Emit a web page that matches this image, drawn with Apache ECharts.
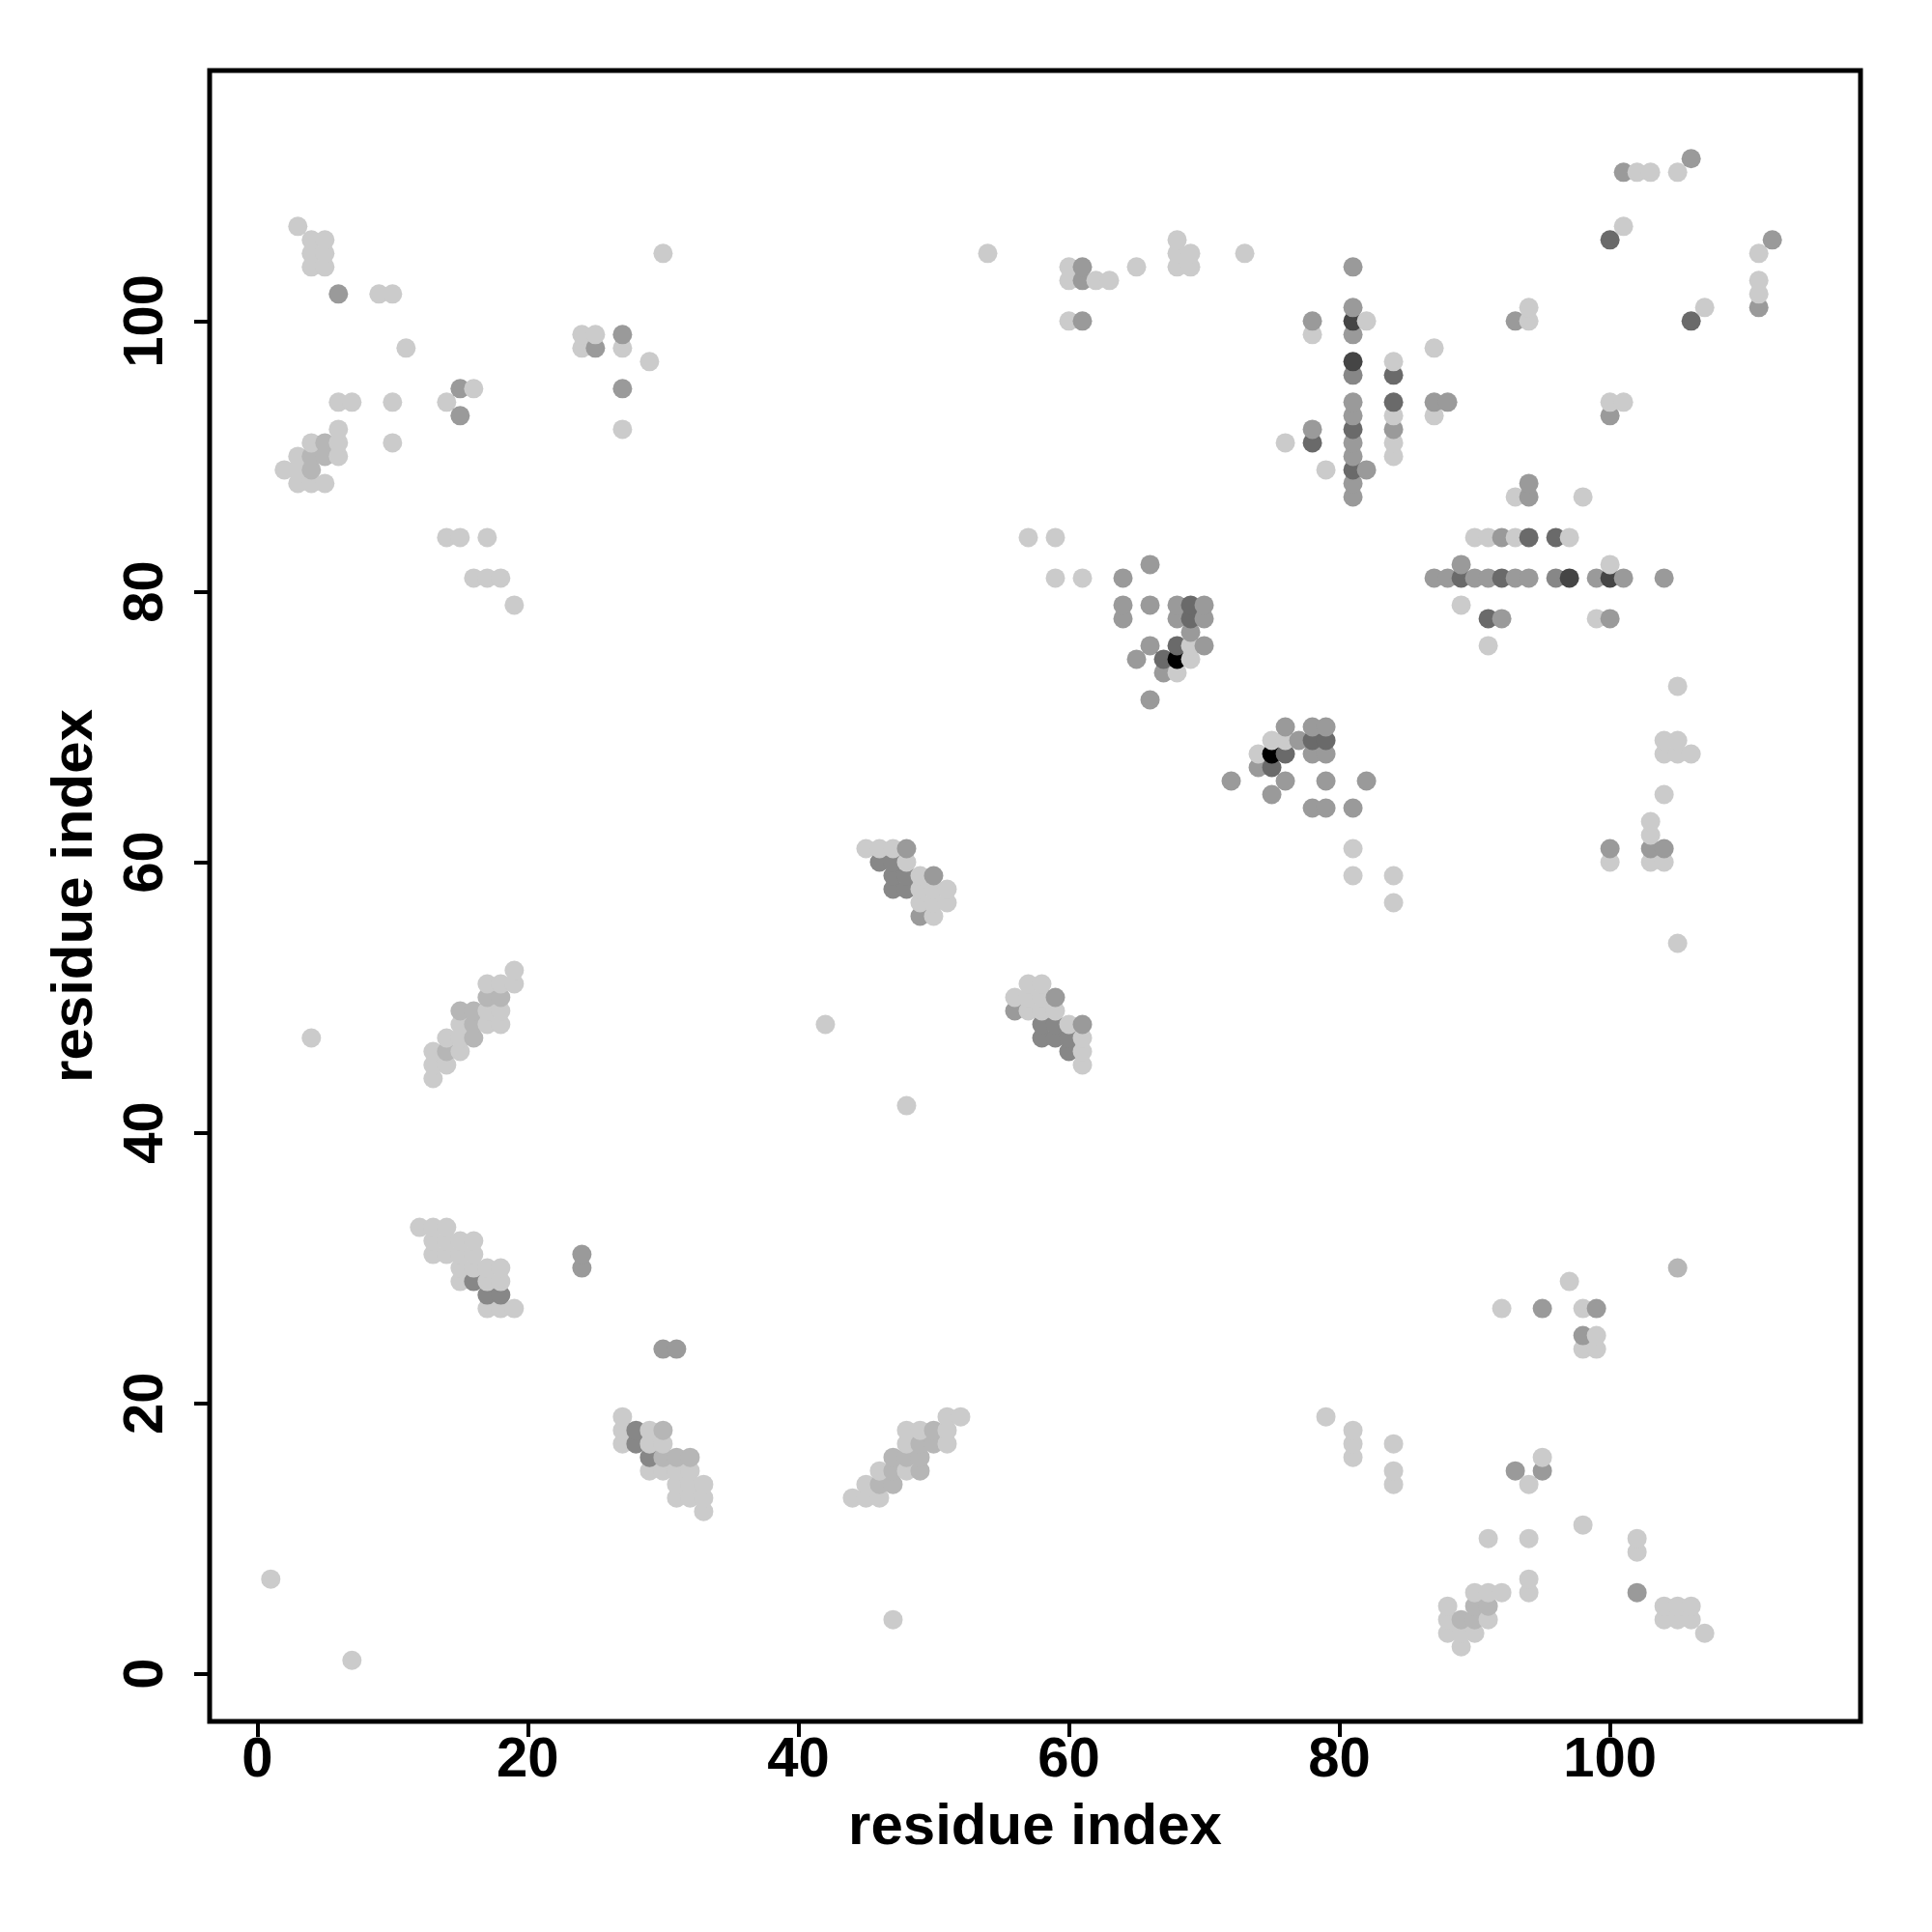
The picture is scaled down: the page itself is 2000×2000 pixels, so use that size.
<!DOCTYPE html>
<html>
<head>
<meta charset="utf-8">
<script src="https://cdn.jsdelivr.net/npm/echarts@6/dist/echarts.min.js"></script>
<style>
  html, body { margin: 0; padding: 0; background: #fff; }
  #chart { width: 2000px; height: 2000px; }
</style>
</head>
<body>
<div id="chart"></div>
<script>
// Contact points [residue i, residue j], grouped by gray level (light -> black)
var grayLight = [
[1,7],[7,1],[3,107],[4,106],[5,106],[4,105],[5,105],[4,104],[5,104],[9,102],[10,102],[11,98],[24,99],[25,99],[24,98],[27,98],[29,97],[27,92],[30,105],[16,95],[14,94],[6,94],[7,94],[10,94],[10,91],[6,92],[4,91],[6,91],[3,90],[6,90],[2,89],[3,89],[3,88],[4,88],[5,88],
[14,84],[15,84],[17,84],[16,81],[17,81],[18,81],[19,79],
[4,47],[19,52],[17,51],[18,51],[19,51],[17,49],[18,49],[15,48],[17,48],[18,48],[14,47],[15,47],[13,46],[15,46],[13,45],[14,45],[13,44],
[12,33],[13,33],[14,33],[13,32],[14,32],[15,32],[16,32],[13,31],[14,31],[15,31],[16,31],[15,30],[16,30],[17,30],[18,30],[15,29],[17,29],[18,29],[17,27],[18,27],[19,27],
[27,19],[27,18],[29,18],[27,17],[29,17],[30,17],[29,15],[30,15],[31,15],[32,15],[31,14],[32,14],[33,14],[31,13],[32,13],[33,13],[33,12],
[42,48],[48,42],[47,4],[44,13],[45,13],[46,13],[45,14],[46,15],[48,15],[48,17],[51,17],[48,18],[49,18],[51,18],[51,19],[52,19],
[45,61],[46,61],[47,61],[48,60],[49,59],[49,58],[50,58],[51,58],[49,57],[50,57],[51,57],[50,56],
[54,105],[57,84],[59,84],[59,81],[61,81],[57,51],[58,51],[56,50],[57,50],[58,50],[57,49],[58,49],[59,49],[60,48],[61,47],[61,46],[61,45],
[60,104],[60,103],[62,103],[63,103],[60,100],[65,104],[68,106],[68,105],[69,105],[68,104],[69,104],[73,105],
[69,76],[69,75],[68,74],[75,69],[76,69],[74,68],[76,91],
[78,99],[79,89],[79,19],[81,61],[81,59],[81,18],[81,17],[81,16],[82,100],[84,97],[84,93],[84,91],[84,90],[84,59],[84,57],[84,17],[84,15],[84,14],
[87,98],[87,93],[88,5],[88,4],[88,3],[89,79],[89,3],[89,2],[90,84],[90,6],[90,3],[91,84],[91,76],[91,10],[91,6],[91,4],[92,27],[92,6],
[93,84],[93,87],[94,101],[94,100],[94,14],[94,10],[94,7],[94,6],[95,16],[97,84],[97,29],[98,87],[98,27],[98,24],[98,11],[99,78],[99,25],[99,24],
[100,94],[100,82],[100,60],[101,94],[101,107],[102,111],[103,111],[105,111],[102,10],[102,9],[103,63],[103,62],[103,60],[104,69],[104,68],[104,65],[104,60],[104,5],[104,4],[105,73],[105,69],[105,68],[105,54],[105,5],[105,4],[106,68],[106,5],[106,4],[107,101],[107,3],[111,105],[111,103],[111,102]
];
var grayLightMid = [
[4,90],[5,90],[5,91],[4,89],[15,49],[16,49],[16,48],[16,47],[17,50],[18,50],[14,46],[30,18],[30,16],[31,16],[32,16],
[47,16],[48,16],[49,16],[47,15],[49,15],[46,14],[47,14],[49,17],[50,17],[50,18],[89,4],[90,4],[90,5],[91,5],[105,30]
];
var grayMid = [
[6,102],[15,95],[15,93],[25,98],[27,99],[27,95],[24,31],[24,30],[30,24],[31,24],
[48,61],[50,59],[49,56],[56,49],[59,50],[61,48],
[61,104],[61,103],[61,100],[64,81],[66,82],[64,79],[66,79],[68,79],[70,79],[64,78],[68,78],[70,78],[69,77],[66,76],[70,76],[65,75],[67,74],[66,72],
[72,66],[74,67],[75,65],[76,70],[76,66],[77,69],[78,70],[79,70],[78,68],[79,68],[78,64],[79,64],[79,66],[81,64],[82,66],
[78,100],[78,92],[81,104],[81,101],[81,99],[81,94],[81,93],[81,91],[81,90],[81,88],[81,87],[82,89],[84,92],[87,94],[88,94],
[87,81],[88,81],[89,82],[90,81],[91,81],[92,84],[92,78],[93,81],[94,81],[94,88],[94,87],[93,100],[93,15],[95,15],[95,27],[99,27],[98,25],
[99,81],[100,93],[100,78],[100,61],[101,81],[101,111],[102,6],[103,61],[104,61],[104,81],[106,112],[111,101],[112,106]
];
var grayMidDark = [
[16,29],[17,28],[18,28],[28,18],[28,17],[29,16],
[46,60],[47,60],[47,59],[47,58],[48,58],[48,59],[58,48],[59,48],[58,47],[59,47],[60,47],[60,46],[81,96],[96,81]
];
var grayDark = [
[67,75],[68,76],[69,79],[69,78],[75,67],[76,68],[78,69],[79,69],[78,91],[81,92],[81,89],[84,96],[84,94],
[89,81],[92,81],[91,78],[94,84],[96,84],[100,106],[106,100]
];
var grayDarker = [[81,100],[81,97],[97,81],[100,81]];
var grayBlack = [[68,75],[75,68]];

var xTicks = [0, 20, 40, 60, 80, 100];
var yTicks = [0, 20, 40, 60, 80, 100];

var groups = [
  { pts: grayLight, color: '#cbcbcb' },
  { pts: grayLightMid, color: '#b6b6b6' },
  { pts: grayMid, color: '#9a9a9a' },
  { pts: grayMidDark, color: '#878787' },
  { pts: grayDark, color: '#6a6a6a' },
  { pts: grayDarker, color: '#454545' },
  { pts: grayBlack, color: '#000000' }
];
var all = [];
groups.forEach(function (g) {
  g.pts.forEach(function (p) { all.push({ value: [p[0], p[1]], itemStyle: { color: g.color } }); });
});
all.sort(function (a, b) { return a.value[0] - b.value[0] || a.value[1] - b.value[1]; });

var font = '"Liberation Sans", Arial, Helvetica, sans-serif';
var lo = -3.52, hi = 118.52;
var tickStyle = { color: '#000', width: 4 };
var chart = echarts.init(document.getElementById('chart'), null, { renderer: 'canvas' });
chart.setOption({
  animation: false,
  backgroundColor: '#ffffff',
  grid: { left: 217, top: 73, width: 1709, height: 1709, show: true, borderColor: '#000', borderWidth: 5, backgroundColor: 'transparent' },
  xAxis: {
    type: 'value', min: lo, max: hi, position: 'bottom',
    name: 'residue index', nameLocation: 'middle', nameGap: 80,
    nameTextStyle: { fontSize: 60, fontWeight: 'bold', color: '#000', fontFamily: font },
    axisLine: { show: false, onZero: false },
    splitLine: { show: false },
    axisTick: { show: true, customValues: xTicks, length: 16, lineStyle: tickStyle },
    axisLabel: { show: true, customValues: xTicks, fontSize: 58, fontWeight: 'bold', color: '#000', fontFamily: font, margin: 12 }
  },
  yAxis: {
    type: 'value', min: lo, max: hi, position: 'left',
    name: 'residue index', nameLocation: 'middle', nameGap: 109,
    nameTextStyle: { fontSize: 60, fontWeight: 'bold', color: '#000', fontFamily: font },
    axisLine: { show: false, onZero: false },
    splitLine: { show: false },
    axisTick: { show: true, customValues: yTicks, length: 16, lineStyle: tickStyle },
    axisLabel: { show: true, customValues: yTicks, rotate: 90, fontSize: 58, fontWeight: 'bold', color: '#000', fontFamily: font, margin: 36 }
  },
  series: [{
    type: 'scatter',
    symbol: 'circle',
    symbolSize: 20,
    data: all,
    itemStyle: { opacity: 1 }
  }]
});
</script>
</body>
</html>
